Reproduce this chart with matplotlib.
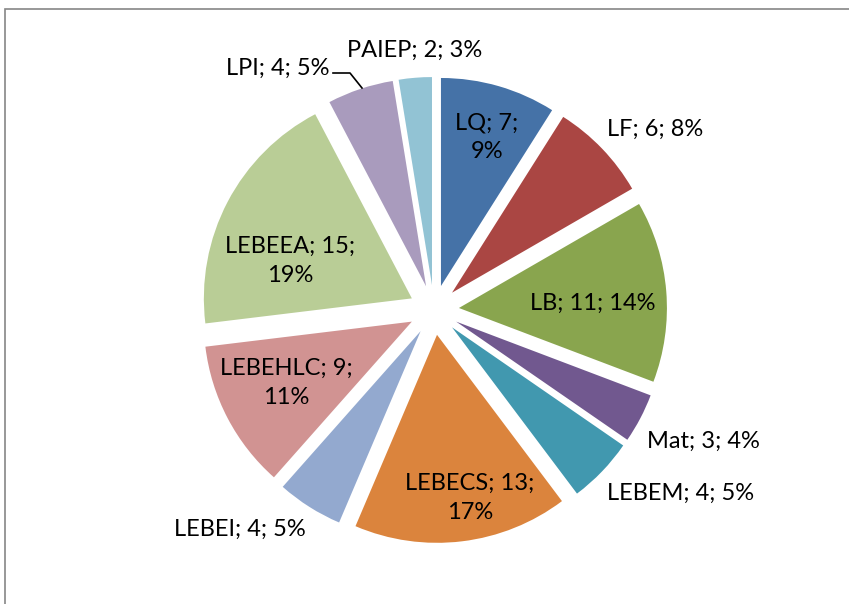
import matplotlib.pyplot as plt
from matplotlib.patches import Rectangle

# data
categories = ['LQ', 'LF', 'LB', 'Mat', 'LEBEM', 'LEBECS', 'LEBEI',
              'LEBEHLC', 'LEBEEA', 'LPI', 'PAIEP']
counts = [7, 6, 11, 3, 4, 13, 4, 9, 15, 4, 2]
percents = [9, 8, 14, 4, 5, 17, 5, 11, 19, 5, 3]

colors = ['#4572A7', '#AA4643', '#89A54E', '#71588F', '#4198AF', '#DB843D',
          '#93A9CF', '#D19392', '#B9CD96', '#A99BBD', '#92C3D4']

# label placement (pixel coords, image y down) and which labels wrap
label_pos = [(487, 137), (655, 129), (593, 303), (703, 441), (681, 493),
             (470, 498), (240, 529), (286, 383), (290, 261), (278, 68),
             (415, 50)]
wrapped = {'LQ', 'LEBECS', 'LEBEHLC', 'LEBEEA'}

W, H = 849, 604
fig = plt.figure(figsize=(W / 100, H / 100), dpi=100)
ax = fig.add_axes([0, 0, 1, 1])

# explode is in data units here (pixels), not a fraction of the radius
ax.pie(counts, colors=colors, startangle=90, counterclock=False,
       center=(434, H - 310), radius=208, explode=[25] * len(counts),
       wedgeprops=dict(linewidth=0))

# pie() resets the limits, so set them afterwards
ax.set_xlim(0, W)
ax.set_ylim(0, H)
ax.set_aspect('equal')
ax.axis('off')

font = ['Lato', 'DejaVu Sans']
for name, n, p, (x, y) in zip(categories, counts, percents, label_pos):
    sep = '\n' if name in wrapped else ' '
    txt = '%s; %d;%s%d%%' % (name, n, sep, p)
    ax.text(x, H - y, txt, ha='center', va='center', fontsize=17,
            family=font, linespacing=1.45, color='black')

# leader line for the LPI label
ax.plot([333, 350, 362], [H - 73, H - 73, H - 88], color='black', lw=1.2)

# chart area border (only left and top edges visible)
fig.patches.append(Rectangle((5 / W, -0.1), 1.2, 1 - 9 / H + 0.1,
                             transform=fig.transFigure, fill=False,
                             edgecolor='#868686', lw=1.2))

fig.savefig('out.png', dpi=100)
